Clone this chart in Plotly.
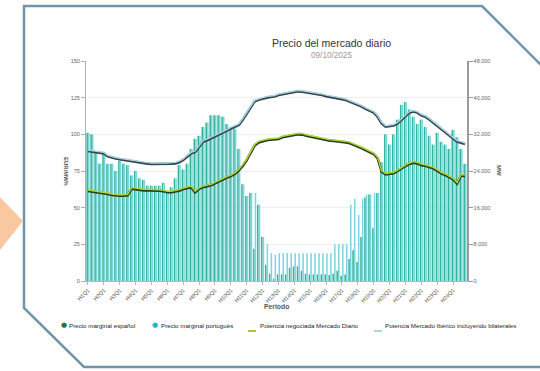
import plotly.graph_objects as go

# periodos cuarto-horarios H1Q1 ... H24Q4
periodos = ["H%dQ%d" % (h, q) for h in range(1, 25) for q in range(1, 5)]
etiquetas = periodos[::4]

# precio marginal (EUR/MWh)
precio_es = [101, 100, 88, 80, 88, 80, 80, 75, 82, 80, 79, 72, 75, 70, 69, 65,
             65, 65, 65, 67, 60, 64, 70, 79, 76, 80, 90, 97, 99, 105, 108, 113,
             113, 113, 112, 107, 104, 104, 90, 66, 58, 60, 22, 52, 30, 11,
             5, 1.5, 4.5, 4.5, 4.5, 9, 10, 10, 7, 5, 4.5, 4.5, 4.5, 4.5, 4.5, 4,
             5, 7, 3.5, 4.5, 15, 21, 13, 30, 57, 59, 36, 60,
             81, 100, 93, 100, 110, 120, 122, 117, 112, 107, 110, 105, 99, 93, 101, 95,
             93, 90, 103, 98, 90, 80]
precio_pt = [101, 100, 88, 80, 88, 80, 80, 75, 82, 80, 79, 72, 75, 70, 69, 65,
             65, 65, 65, 67, 60, 64, 70, 79, 76, 80, 90, 97, 99, 105, 108, 113,
             113, 113, 112, 107, 104, 104, 90, 66, 58, 60, 60, 52, 30, 25,
             19, 18, 19, 19, 19, 19, 19, 19, 19, 19, 19, 19, 19, 19, 19, 19,
             25, 25, 25, 25, 52, 56, 45, 56, 59, 59, 60, 60,
             81, 100, 93, 100, 110, 120, 122, 117, 112, 107, 110, 105, 99, 93, 101, 95,
             93, 90, 103, 98, 90, 80]

# potencia (MW)
pot_diario = [19650, 19520, 19490, 19260, 19140, 18980, 18750, 18620, 18620, 18620, 18690, 20160,
              20000, 19840, 19780, 19780, 19780, 19780, 19710, 19580, 19360, 19360, 19520, 19710,
              20060, 20350, 20480, 19360, 20100, 20480, 20640, 20860, 21310, 21760, 22180, 22560,
              22880, 23360, 24160, 25120, 26400, 28160, 29600, 30240, 30560, 30720, 30820, 30910,
              30980, 31360, 31490, 31550, 31840, 32000, 31940, 31680, 31490, 31360, 31140, 30910,
              30720, 30620, 30560, 30500, 30400, 30240, 30050, 29600, 29310, 28960, 28580, 28220,
              27710, 26750, 23840, 23260, 23360, 23490, 24000, 24580, 25090, 25540, 25820, 25660,
              25280, 25150, 24930, 24580, 24060, 23490, 23140, 22750, 22180, 21280, 23040, 22880]
pot_iberico = [28350, 28220, 28100, 28000, 27840, 27200, 26880, 26720, 26560, 26400, 26240, 26080,
               25920, 25790, 25660, 25600, 25540, 25520, 25510, 25520, 25540, 25600, 25660, 25920,
               26400, 27200, 27840, 28160, 29310, 30400, 30720, 31140, 31490, 31840, 32220, 32800,
               33280, 33600, 34050, 35200, 36480, 38050, 39200, 39520, 39840, 40000, 40160, 40260,
               40580, 40740, 40800, 41090, 41280, 41380, 41280, 41150, 40960, 40800, 40740, 40580,
               40320, 40190, 40000, 39840, 39680, 39490, 39140, 38720, 38400, 38050, 37540, 37090,
               36740, 35840, 34400, 33660, 33820, 33920, 34400, 35200, 36000, 36740, 36960, 36740,
               36160, 35840, 35260, 34560, 33820, 33280, 32580, 31840, 31140, 30400, 30180, 29890]

# plot area in pixels: x 86..467, y 61..281
def px(x):
    return (x - 86) / 381.0

def py(y):
    return (281 - y) / 220.0

FONT = "Liberation Sans, Arial, sans-serif"

fig = go.Figure()
fig.add_trace(go.Bar(x=periodos, y=precio_es, name="Precio marginal español",
                     marker=dict(color="#33b496", line=dict(width=0))))
fig.add_trace(go.Bar(x=periodos, y=precio_pt, name="Precio marginal portugués",
                     marker=dict(color="#7dd6e0", line=dict(width=0))))
# dark under-strokes
fig.add_trace(go.Scatter(x=periodos, y=pot_iberico, yaxis="y2", mode="lines",
                         line=dict(color="#36444c", width=2.6)))
fig.add_trace(go.Scatter(x=periodos, y=pot_diario, yaxis="y2", mode="lines",
                         line=dict(color="#25401c", width=2.6)))
# coloured strokes on top
fig.add_trace(go.Scatter(x=periodos, y=pot_iberico, yaxis="y3", mode="lines",
                         name="Potencia Mercado Ibérico incluyendo bilaterales",
                         line=dict(color="#a9d6e6", width=1.4)))
fig.add_trace(go.Scatter(x=periodos, y=pot_diario, yaxis="y3", mode="lines",
                         name="Potencia negociada Mercado Diario",
                         line=dict(color="#b4d23a", width=1.5)))

ann = []
ann.append(dict(text="Precio del mercado diario", x=px(331), y=py(35), xref="paper", yref="paper",
                showarrow=False, font=dict(size=10.5, color="#333333", family=FONT)))
ann.append(dict(text="09/10/2025", x=px(331), y=py(49), xref="paper", yref="paper",
                showarrow=False, font=dict(size=8.2, color="#999999", family=FONT)))
ann.append(dict(text="<b>EUR/MWh</b>", x=px(61), y=0.5, xref="paper", yref="paper", textangle=90,
                showarrow=False, font=dict(size=6, color="#555555", family=FONT)))
ann.append(dict(text="<b>MW</b>", x=px(504), y=0.5, xref="paper", yref="paper", textangle=90,
                showarrow=False, font=dict(size=6, color="#555555", family=FONT)))
ann.append(dict(text="<b>Periodo</b>", x=px(276), y=py(312), xref="paper", yref="paper",
                showarrow=False, font=dict(size=6.8, color="#555555", family=FONT)))

# legend row
ley = [("●", "#1d7a3c", 59, "Precio marginal español", 67),
       ("●", "#23b8c8", 150, "Precio marginal portugués", 159),
       (None, "#a9c83a", 248, "Potencia negociada Mercado Diario", 258),
       (None, "#a9d6e6", 374, "Potencia Mercado Ibérico incluyendo bilaterales", 383)]
shapes = []
for sym, col, sx, txt, tx in ley:
    if sym:
        ann.append(dict(text=sym, x=px(sx), y=py(331), xref="paper", yref="paper", xanchor="left",
                        showarrow=False, font=dict(size=7, color=col, family="DejaVu Sans")))
    else:
        shapes.append(dict(type="line", xref="paper", yref="paper", x0=px(sx), x1=px(sx + 8),
                           y0=py(331), y1=py(331), line=dict(color=col, width=2)))
    ann.append(dict(text=txt, x=px(tx), y=py(331), xref="paper", yref="paper",
                    xanchor="left", showarrow=False,
                    font=dict(size=6.2, color="#222222", family=FONT)))

# frame and arrow
frame = "M %f,%f L %f,%f L %f,%f L %f,%f L %f,%f L %f,%f" % (
    px(575), py(99), px(482), py(6), px(24), py(6), px(24), py(308), px(84), py(367), px(575), py(367))
shapes.append(dict(type="path", path=frame, xref="paper", yref="paper",
                   line=dict(color="#6e96a6", width=2.5)))
tri = "M %f,%f L %f,%f L %f,%f Z" % (px(-8), py(189), px(23), py(221), px(-8), py(260))
shapes.append(dict(type="path", path=tri, xref="paper", yref="paper",
                   fillcolor="#f9c7a0", line=dict(width=0)))

fig.update_layout(
    width=540, height=371,
    margin=dict(l=86, r=73, t=61, b=90),
    paper_bgcolor="white", plot_bgcolor="white",
    barmode="group", bargap=0.18, bargroupgap=0.05,
    showlegend=False, separators=",.", hovermode=False,
    font=dict(family=FONT, color="#666666"),
    xaxis=dict(type="category", tickvals=etiquetas, ticktext=etiquetas, tickangle=-45,
               tickfont=dict(size=5.5, color="#555555"), showgrid=False,
               showline=True, linecolor="#b8b8b8", ticks="outside", ticklen=3, tickcolor="#b8b8b8"),
    yaxis=dict(range=[0, 150], tick0=0, dtick=25, gridcolor="#ebebeb", gridwidth=0.8,
               showline=True, linecolor="#b0b0b0", ticks="outside", ticklen=4, tickcolor="#b0b0b0",
               tickfont=dict(size=5.5, color="#666666"), zeroline=False),
    yaxis2=dict(overlaying="y", side="right", range=[0, 48000], tick0=0, dtick=8000,
                tickformat=",d", separatethousands=True, showgrid=False, zeroline=False,
                showline=True, linecolor="#9a9a9a", linewidth=1.5, ticks="outside", ticklen=4,
                tickcolor="#9a9a9a", tickfont=dict(size=5.5, color="#666666")),
    yaxis3=dict(overlaying="y", range=[-220, 47780], visible=False),
    annotations=ann, shapes=shapes,
)

# body margin off so the 540x371 figure sits at the window origin
fig.write_html("out.html", config={"displayModeBar": False, "staticPlot": True},
               post_script="document.body.style.margin='0';")
